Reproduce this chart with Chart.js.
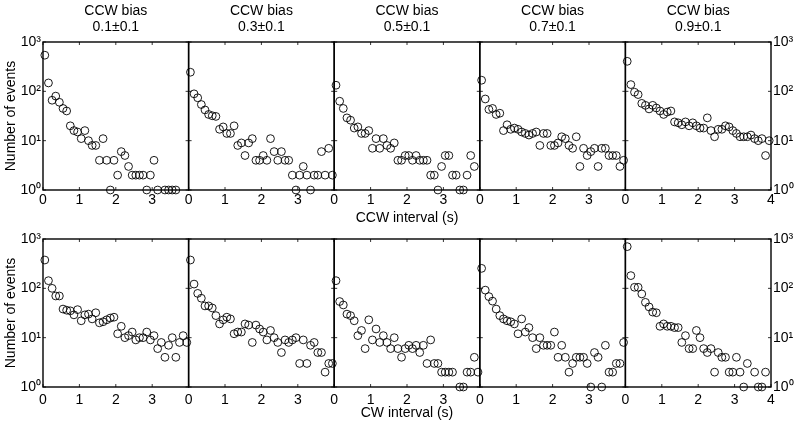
<!DOCTYPE html>
<html>
<head>
<meta charset="utf-8">
<script src="https://cdn.jsdelivr.net/npm/chart.js@4.4.0/dist/chart.umd.min.js"></script>
<style>
  body { margin: 0; background: #fff; width: 795px; height: 422px; position: relative; overflow: hidden;
         font-family: "Liberation Sans", Arial, Helvetica, sans-serif; }
  canvas { position: absolute; left: 0; top: 0; }
  .lbl { position: absolute; font-size: 14px; line-height: 16px; color: #000; white-space: nowrap; }
</style>
</head>
<body>
<script>
// bin centres (s), shared by every panel
const binCenters = [0.05,0.15,0.25,0.35,0.45,0.55,0.65,0.75,0.85,0.95,1.05,1.15,1.25,1.35,1.45,1.55,1.65,1.75,1.85,1.95,
                    2.05,2.15,2.25,2.35,2.45,2.55,2.65,2.75,2.85,2.95,3.05,3.15,3.25,3.35,3.45,3.55,3.65,3.75,3.85,3.95];

const biasLabels = ['0.1\u00b10.1', '0.3\u00b10.1', '0.5\u00b10.1', '0.7\u00b10.1', '0.9\u00b10.1'];

// CCW interval histograms (top row), null = empty bin
const ccwBias01 = [540,148,66,80,60,45,40,20,16,15,11,16,10,8,8,4,11,4,1,4,2,6,5,3,2,2,2,2,1,2,4,1,null,1,1,1,1,null,null,null];
const ccwBias03 = [244,89,74,54,42,34,32,31,17,19,14,14,20,8,9,5,9,11,4,4,5,4,11,6,4,6,4,4,2,1,2,3,2,1,2,2,6,2,7,2];
const ccwBias05 = [133,63,45,29,26,18,19,14,14,16,7,11,7,11,8,7,9,4,4,5,5,4,5,4,4,4,2,2,1,3,5,5,2,2,1,1,2,5,3,null];
const ccwBias07 = [168,70,43,45,34,36,16,21,17,18,17,15,14,13,14,15,8,14,14,8,8,9,12,11,8,7,12,3,7,5,6,7,3,7,7,5,5,5,3,4];
const ccwBias09 = [406,137,96,86,57,52,44,52,46,40,34,38,40,24,23,21,24,20,23,20,18,18,29,16,12,17,17,20,19,16,14,12,12,12,13,11,10,11,5,10];

// CW interval histograms (bottom row)
const cwBias01 = [375,143,100,70,70,38,36,35,29,37,22,29,30,24,32,20,21,23,25,26,12,17,10,11,13,9,10,10,13,9,11,6,8,4,7,10,4,8,11,8];
const cwBias03 = [375,122,79,63,44,44,40,28,19,23,26,24,12,13,13,19,18,8,18,15,13,9,14,10,8,5,9,8,9,10,3,9,3,7,8,5,5,2,3,3];
const cwBias05 = [143,54,46,30,28,22,11,14,6,23,9,15,8,11,8,6,10,6,4,6,7,6,7,5,7,3,9,3,3,2,2,2,2,null,1,1,2,2,4,2];
const cwBias07 = [254,92,68,55,38,28,24,22,21,19,12,24,13,16,10,6,10,7,7,7,13,4,7,4,2,3,4,4,4,3,1,5,4,1,7,2,2,3,3,8];
const cwBias09 = [700,181,105,105,77,52,42,33,32,17,19,17,17,16,16,8,11,6,6,14,10,6,5,6,2,5,4,4,2,2,4,2,1,3,null,2,1,1,2,null];

const xTicks = [0, 1, 2, 3, 4];
const yTicks = [1, 10, 100, 1000];
const yTickText = { 1: '10\u2070', 10: '10\u00b9', 100: '10\u00b2', 1000: '10\u00b3' };

// page geometry (canvases are a bit wider than the page so right-hand labels are not clipped)
const CW = 830, CH = 422;
const plotLeft = 43, panelW = 145.6, rowH = 148;
const rowTops = [42, 239];
const yAxisW = 30, xAxisH = 22;
const font = { family: '"Liberation Sans", Arial, sans-serif', size: 14 };

// box round each panel plus small inward ticks
const framePlugin = {
  id: 'frame',
  afterDraw(chart) {
    const { ctx, chartArea: a, scales: { x, y } } = chart;
    ctx.save();
    ctx.strokeStyle = '#000';
    ctx.lineWidth = 1.4;
    ctx.strokeRect(a.left, a.top, a.right - a.left, a.bottom - a.top);
    ctx.lineWidth = 0.8;
    ctx.beginPath();
    xTicks.forEach(v => {
      const px = x.getPixelForValue(v);
      ctx.moveTo(px, a.bottom); ctx.lineTo(px, a.bottom - 3);
      ctx.moveTo(px, a.top); ctx.lineTo(px, a.top + 3);
    });
    yTicks.forEach(v => {
      const py = y.getPixelForValue(v);
      ctx.moveTo(a.left, py); ctx.lineTo(a.left + 3, py);
      ctx.moveTo(a.right, py); ctx.lineTo(a.right - 3, py);
    });
    ctx.stroke();
    ctx.restore();
  }
};

function addLabel(text, left, top, extra) {
  const d = document.createElement('div');
  d.className = 'lbl';
  d.textContent = text;
  d.style.left = left + 'px';
  d.style.top = top + 'px';
  d.style.transform = extra || 'translateX(-50%)';
  document.body.appendChild(d);
}

function makePanel(row, col, counts) {
  const left = plotLeft + col * panelW;
  const right = left + panelW;
  const top = rowTops[row];
  const bottom = top + rowH;
  const showY = col === 0 || col === 4;
  const yw = showY ? yAxisW : 0;

  const canvas = document.createElement('canvas');
  canvas.width = CW; canvas.height = CH;
  document.body.appendChild(canvas);

  const points = [];
  binCenters.forEach((x, i) => { if (counts[i] != null) points.push({ x: x, y: counts[i] }); });

  new Chart(canvas.getContext('2d'), {
    type: 'scatter',
    data: {
      datasets: [{
        data: points,
        pointStyle: 'circle',
        pointRadius: 3.9,
        pointBorderWidth: 0.9,
        pointBorderColor: '#000',
        pointBackgroundColor: 'rgba(0,0,0,0)',
        clip: false
      }]
    },
    options: {
      responsive: false,
      animation: false,
      events: [],
      layout: {
        padding: {
          left: col === 4 ? left : left - yw,
          right: col === 4 ? CW - right - yw : CW - right,
          top: top,
          bottom: CH - bottom - xAxisH
        }
      },
      plugins: { legend: { display: false }, tooltip: { enabled: false } },
      scales: {
        x: {
          type: 'linear', min: 0, max: 4, position: 'bottom',
          afterFit: s => { s.height = xAxisH; },
          afterBuildTicks: s => { s.ticks = xTicks.map(v => ({ value: v })); },
          ticks: {
            autoSkip: false, maxRotation: 0, padding: row === 0 ? 2 : 5,
            color: '#000', font: font,
            callback: v => (v === 4 && col !== 4) ? '' : String(v)
          },
          grid: { display: false, drawTicks: false },
          border: { display: false }
        },
        y: {
          type: 'logarithmic', min: 1, max: 1000,
          position: col === 4 ? 'right' : 'left',
          afterFit: s => { s.width = yw; },
          afterBuildTicks: s => { s.ticks = yTicks.map(v => ({ value: v, major: true })); },
          ticks: {
            display: showY, padding: 2, autoSkip: false,
            color: '#000', font: font,
            callback: v => yTickText[v] || ''
          },
          grid: { display: false, drawTicks: false },
          border: { display: false }
        }
      }
    },
    plugins: [framePlugin]
  });
}

const topRow = [ccwBias01, ccwBias03, ccwBias05, ccwBias07, ccwBias09];
const bottomRow = [cwBias01, cwBias03, cwBias05, cwBias07, cwBias09];
topRow.forEach((c, i) => makePanel(0, i, c));
bottomRow.forEach((c, i) => makePanel(1, i, c));

// headers and axis titles
biasLabels.forEach((b, i) => {
  const cx = plotLeft + (i + 0.5) * panelW;
  addLabel('CCW bias', cx, 2);
  addLabel(b, cx, 18);
});
addLabel('Number of events', 10, rowTops[0] + rowH / 2, 'translate(-50%,-50%) rotate(-90deg)');
addLabel('Number of events', 10, rowTops[1] + rowH / 2, 'translate(-50%,-50%) rotate(-90deg)');
addLabel('CCW interval (s)', plotLeft + 2.5 * panelW, 209);
addLabel('CW interval (s)', plotLeft + 2.5 * panelW, 404);
</script>
</body>
</html>
